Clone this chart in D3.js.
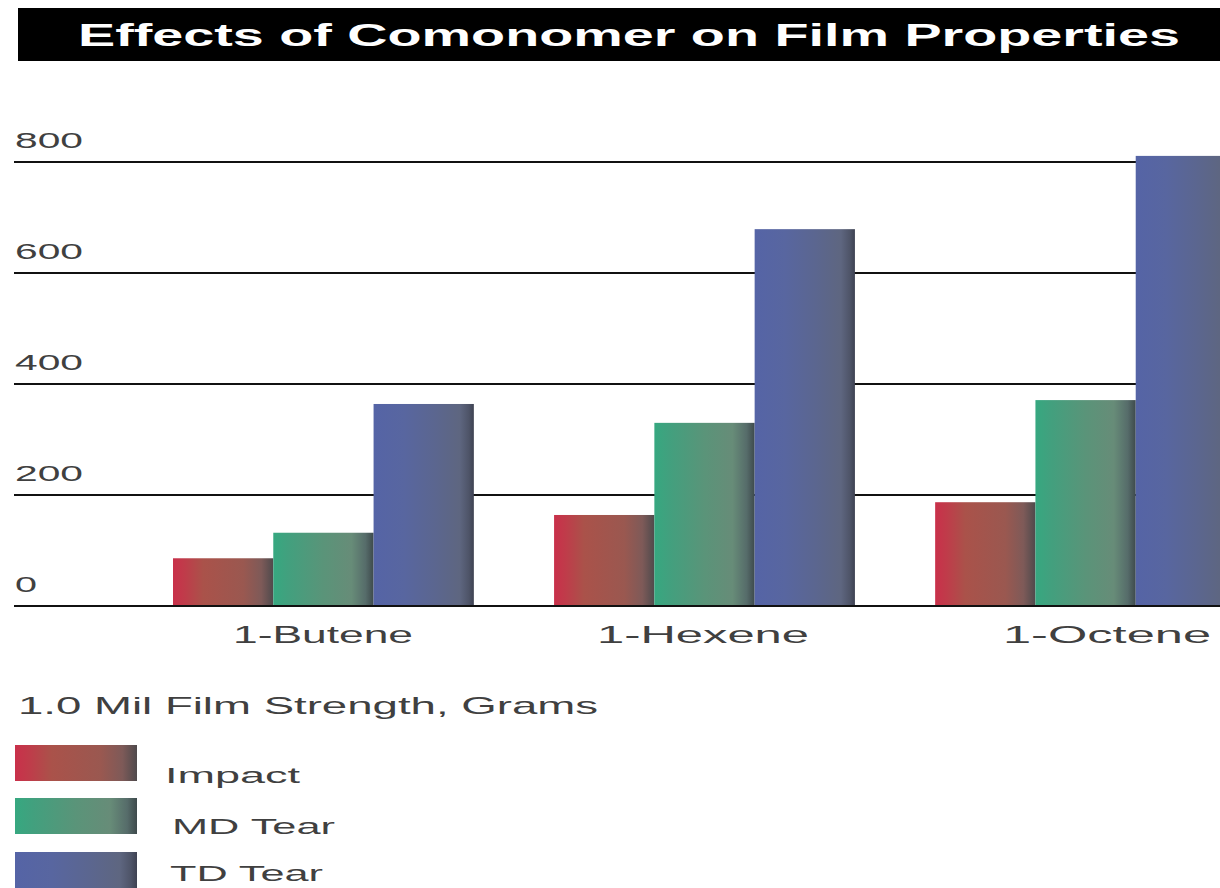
<!DOCTYPE html>
<html><head><meta charset="utf-8">
<script src="https://cdn.jsdelivr.net/npm/d3@7"></script>
<style>
html,body{margin:0;padding:0;background:#fff;}
svg{display:block;font-family:"Liberation Sans",Arial,Helvetica,sans-serif;}
</style></head>
<body>
<script>
const title = "Effects of Comonomer on Film Properties";
const categories = ["1-Butene", "1-Hexene", "1-Octene"];
const seriesNames = ["Impact", "MD Tear", "TD Tear"];
const impact = [86, 164, 187];
const mdTear = [132, 330, 371];
const tdTear = [364, 679, 811];
const yTicks = [0, 200, 400, 600, 800];
const legendTitle = "1.0 Mil Film Strength, Grams";

const seriesValues = [impact, mdTear, tdTear];
const gradStops = [
  [["0", "#c9304a"], ["0.12", "#bf3c4a"], ["0.3", "#aa524a"], ["0.7", "#9a5850"], ["0.88", "#7e5a58"], ["1", "#4f4a4c"]],
  [["0", "#36a880"], ["0.15", "#42a07e"], ["0.5", "#5a9479"], ["0.78", "#678c78"], ["0.92", "#566c6a"], ["1", "#3e4a4c"]],
  [["0", "#5564a6"], ["0.3", "#5866a0"], ["0.6", "#5b6690"], ["0.86", "#5e6680"], ["0.95", "#4e5468"], ["1", "#3e4252"]]
];

const W = 1220, H = 888;
const TXT = "#404040";
const svg = d3.select("body").append("svg").attr("width", W).attr("height", H);
const defs = svg.append("defs");
gradStops.forEach((stops, i) => {
  const g = defs.append("linearGradient").attr("id", "g" + i)
    .attr("x1", "0").attr("x2", "1").attr("y1", "0").attr("y2", "0");
  stops.forEach(s => g.append("stop").attr("offset", s[0]).attr("stop-color", s[1]));
});

// Title bar
svg.append("rect").attr("x", 18).attr("y", 8).attr("width", W - 18).attr("height", 53).attr("fill", "#000");
svg.append("text").attr("x", 78).attr("y", 46).text(title)
  .attr("fill", "#fff").attr("font-weight", "bold").attr("font-size", 31)
  .attr("textLength", 1102).attr("lengthAdjust", "spacingAndGlyphs");

const y = d3.scaleLinear().domain([0, 800]).range([606, 162]);
const x0 = d3.scaleBand().domain(categories).range([173, 1236]).paddingInner(80 / 380).paddingOuter(0);
const x1 = d3.scaleBand().domain(seriesNames).range([0, x0.bandwidth()]).padding(0);

// Gridlines
const grid = svg.append("g");
grid.selectAll("line").data(yTicks).join("line")
  .attr("x1", 14).attr("x2", W).attr("y1", d => y(d)).attr("y2", d => y(d))
  .attr("stroke", "#111").attr("stroke-width", 2.2);

// Tick labels
const tickW = {0: 22, 200: 68, 400: 68, 600: 68, 800: 68};
svg.append("g").selectAll("text").data(yTicks).join("text")
  .attr("x", 15).attr("y", d => y(d) - 14).text(d => d)
  .attr("fill", TXT).attr("font-size", 22)
  .attr("textLength", d => tickW[d]).attr("lengthAdjust", "spacingAndGlyphs");

// Bars
const groups = svg.append("g").selectAll("g").data(categories).join("g")
  .attr("transform", d => `translate(${x0(d)},0)`);
groups.selectAll("rect").data((d, ci) => seriesNames.map((s, si) => ({s, si, v: seriesValues[si][ci]})))
  .join("rect")
  .attr("x", d => x1(d.s)).attr("width", x1.bandwidth())
  .attr("y", d => y(d.v)).attr("height", d => y(0) - y(d.v))
  .attr("fill", d => `url(#g${d.si})`);

// Baseline redraw over bars
svg.append("line").attr("x1", 14).attr("x2", W).attr("y1", y(0)).attr("y2", y(0))
  .attr("stroke", "#111").attr("stroke-width", 2.2);

// Category labels
const catPos = {"1-Butene": [233, 180], "1-Hexene": [597, 212], "1-Octene": [1003, 208]};
svg.append("g").selectAll("text").data(categories).join("text")
  .attr("x", d => catPos[d][0] + catPos[d][1] / 2)
  .attr("y", 643).attr("text-anchor", "middle").text(d => d)
  .attr("fill", TXT).attr("font-size", 24)
  .attr("textLength", d => catPos[d][1]).attr("lengthAdjust", "spacingAndGlyphs");

// Legend
svg.append("text").attr("x", 18).attr("y", 714).text(legendTitle)
  .attr("fill", TXT).attr("font-size", 24)
  .attr("textLength", 580).attr("lengthAdjust", "spacingAndGlyphs");

const legY = [745, 798, 852];
const legLab = [[165, 135, 783], [172, 163, 834], [170, 153, 881]];
const leg = svg.append("g").selectAll("g").data(seriesNames).join("g");
leg.append("rect").attr("x", 15).attr("y", (d, i) => legY[i]).attr("width", 122).attr("height", 36)
  .attr("fill", (d, i) => `url(#g${i})`);
leg.append("text").attr("x", (d, i) => legLab[i][0]).attr("y", (d, i) => legLab[i][2]).text(d => d)
  .attr("fill", TXT).attr("font-size", 22)
  .attr("textLength", (d, i) => legLab[i][1]).attr("lengthAdjust", "spacingAndGlyphs");
</script>
</body></html>
